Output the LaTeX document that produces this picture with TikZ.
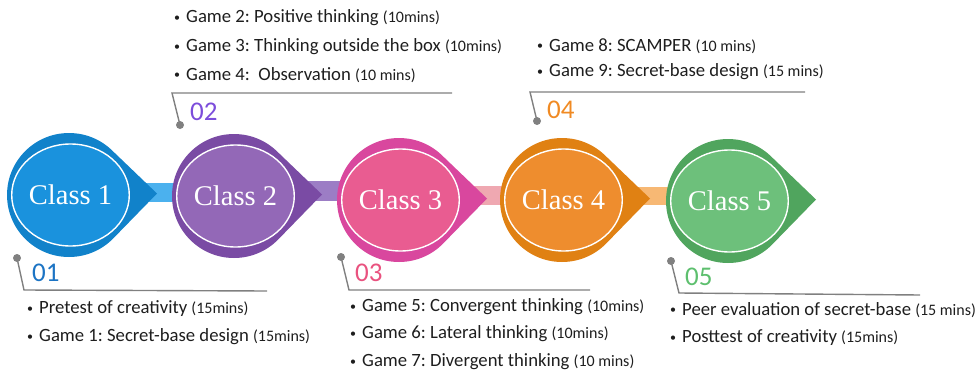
\documentclass[tikz,border=0pt]{standalone}
\usepackage{fontspec}
\setmainfont{Carlito}
\newfontfamily\classface{Liberation Serif}
\usetikzlibrary{shapes.geometric}

\definecolor{oneDark}{HTML}{1182CA}
\definecolor{oneLight}{HTML}{1A92DD}
\definecolor{oneBar}{HTML}{4BB1EE}
\definecolor{oneNum}{HTML}{1C74C4}
\definecolor{twoDark}{HTML}{7A4BA4}
\definecolor{twoLight}{HTML}{9368B7}
\definecolor{twoBar}{HTML}{9C7DC5}
\definecolor{twoNum}{HTML}{7C4DDB}
\definecolor{threeDark}{HTML}{D9479E}
\definecolor{threeLight}{HTML}{E95C91}
\definecolor{threeBar}{HTML}{EFA8B1}
\definecolor{threeNum}{HTML}{E9527F}
\definecolor{fourDark}{HTML}{E08113}
\definecolor{fourLight}{HTML}{EE8D2E}
\definecolor{fourBar}{HTML}{F7B874}
\definecolor{fourNum}{HTML}{F08A23}
\definecolor{fiveDark}{HTML}{50A55E}
\definecolor{fiveLight}{HTML}{6DC07B}
\definecolor{fiveNum}{HTML}{5DBF6E}
\definecolor{leaderGray}{HTML}{808080}
\definecolor{bodyText}{HTML}{1E1E1E}

\tikzset{
  classcore/.style={ellipse, minimum width=108pt, minimum height=102pt, inner sep=0pt,
    draw=white, line width=1.4pt, text=white,
    font=\classface\fontsize{28.5}{28.5}\selectfont},
  leader/.style={draw=leaderGray, line width=1.4pt},
  leaderdot/.style={fill=leaderGray},
  numlabel/.style={anchor=west, inner sep=0pt, font=\fontsize{27}{27}\selectfont},
  item/.style={anchor=west, inner sep=0pt, text=bodyText,
    font=\frenchspacing\fontsize{18.7}{18.7}\selectfont},
}
\newcommand\bul{\makebox[12pt][l]{\raisebox{1.5pt}{\fontsize{12}{12}\selectfont•}}}
\newcommand\dur[1]{{\fontsize{16}{16}\selectfont #1}}

\begin{document}
\begin{tikzpicture}[x=1pt,y=-1pt]
\useasboundingbox (0,0) rectangle (980,372);

% connecting bars (behind the stages)
\fill[oneBar]   (140,183) rectangle (200,202);
\fill[twoBar]   (305,181) rectangle (365,201);
\fill[threeBar] (470,186) rectangle (530,205);
\fill[fourBar]  (635,187) rectangle (695,205);

% stages: pointed disc plus inner ellipse with the class name
\foreach \i/\cx/\cy/\oc/\ic in {1/69/195/oneDark/oneLight, 2/234/196/twoDark/twoLight,
    3/399/200/threeDark/threeLight, 4/562/200/fourDark/fourLight, 5/728/201/fiveDark/fiveLight}{
  \fill[\oc] (\cx+88,\cy-1.5) -- ([shift={(45:62)}]\cx,\cy)
     arc[start angle=45, end angle=315, radius=62] -- cycle;
  \node[classcore, fill=\ic] (c\i) at (\cx+1.5,\cy) {Class \i};
}

% leader lines
\coordinate (d1) at (17,258);  \coordinate (k1) at (24,290);  \coordinate (e1) at (267,291);
\coordinate (d2) at (180,125); \coordinate (k2) at (172,93);  \coordinate (e2) at (452,93);
\coordinate (d3) at (341,257); \coordinate (k3) at (349,290); \coordinate (e3) at (590,290);
\coordinate (d4) at (537,121); \coordinate (k4) at (530,92);  \coordinate (e4) at (805,92);
\coordinate (d5) at (671,261); \coordinate (k5) at (679,293); \coordinate (e5) at (920,295);
\foreach \j in {1,...,5}{
  \draw[leader] (d\j) -- (k\j) -- (e\j);
  \fill[leaderdot] (d\j) circle (4);
}

% stage numbers
\node[numlabel, text=oneNum]   (n1) at (32,273)  {01};
\node[numlabel, text=twoNum]   (n2) at (190,112) {02};
\node[numlabel, text=threeNum] (n3) at (355,273) {03};
\node[numlabel, text=fourNum]  (n4) at (547,110) {04};
\node[numlabel, text=fiveNum]  (n5) at (685,277) {05};

% activities
\node[item] (a11) at (27,309) {\bul Pretest of creativity \dur{(15mins)}};
\node[item] (a12) at (27,337) {\bul Game 1: Secret-base design \dur{(15mins)}};

\node[item] (a21) at (174,18) {\bul Game 2: Positive thinking \dur{(10mins)}};
\node[item] (a22) at (174,47) {\bul Game 3: Thinking outside the box \dur{(10mins)}};
\node[item] (a23) at (174,75) {\bul Game 4:\ \ Observation \dur{(10 mins)}};

\node[item] (a31) at (350,307) {\bul Game 5: Convergent thinking \dur{(10mins)}};
\node[item] (a32) at (350,334) {\bul Game 6: Lateral thinking \dur{(10mins)}};
\node[item] (a33) at (350,362) {\bul Game 7: Divergent thinking \dur{(10 mins)}};

\node[item] (a41) at (537,46) {\bul Game 8: SCAMPER \dur{(10 mins)}};
\node[item] (a42) at (537,72) {\bul Game 9: Secret-base design \dur{(15 mins)}};

\node[item] (a51) at (670,310) {\bul Peer evaluation of secret-base \dur{(15 mins)}};
\node[item] (a52) at (670,338) {\bul Posttest of creativity \dur{(15mins)}};
\end{tikzpicture}
\end{document}
